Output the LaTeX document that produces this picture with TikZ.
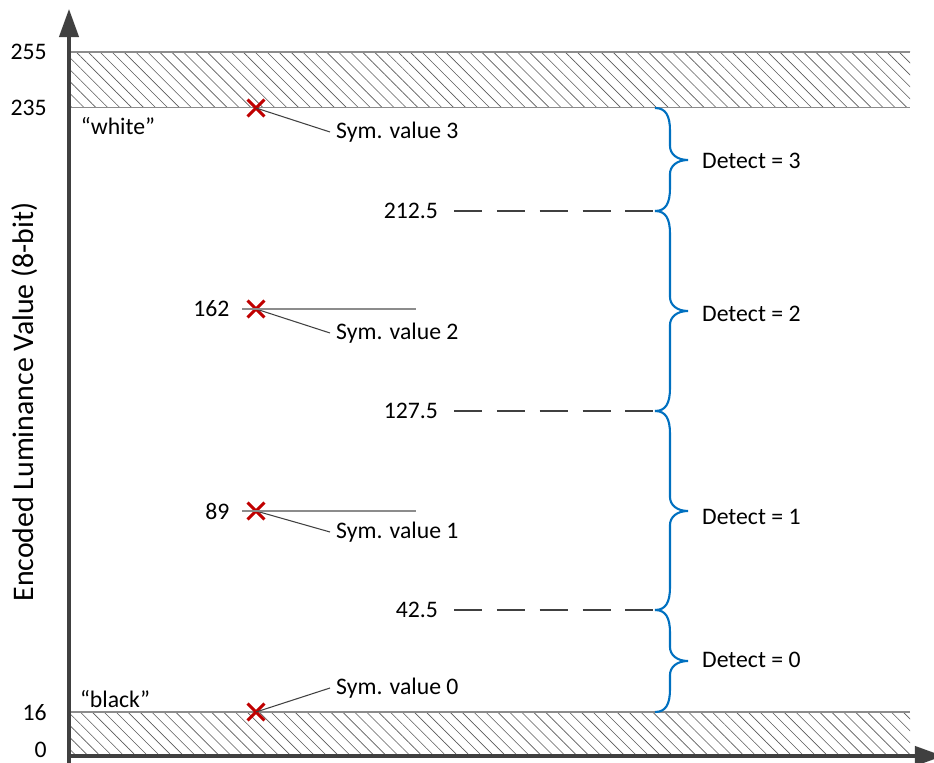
\documentclass[tikz,border=0pt]{standalone}
\usepackage{fontspec}
\setmainfont{Carlito}
\usepackage{tikz}
\usetikzlibrary{arrows.meta, patterns.meta, shapes.misc, positioning}
\usepackage{xcolor}
\definecolor{axisgray}{HTML}{404040}
\definecolor{bandgray}{HTML}{8C8C8C}
\definecolor{hatchgray}{HTML}{5A5A5A}
\definecolor{symred}{HTML}{C00000}
\definecolor{braceblue}{HTML}{0070C0}

\tikzset{
  axis/.style={draw=axisgray, line width=1.9pt, -{Triangle[length=16pt,width=11pt]}},
  hatchband/.style={pattern={Lines[angle=-45,distance=4.8pt,line width=0.35pt]}, pattern color=hatchgray},
  bandline/.style={draw=bandgray, line width=0.7pt},
  xmark/.style={cross out, draw=symred, line width=1.7pt, minimum size=0.28cm, inner sep=0pt},
  leader/.style={draw=axisgray, line width=0.6pt},
  levelline/.style={draw=bandgray, line width=0.8pt},
  ticklbl/.style={anchor=east, inner sep=0pt},
  thresh/.style={anchor=east, inner xsep=9pt},
  threshline/.style={draw=axisgray, line width=1.1pt, dash pattern=on 15.9pt off 8.5pt},
  symlbl/.style={anchor=west},
  detbrace/.style={draw=braceblue, line width=1.2pt},
  detect/.style={anchor=west}
}

\begin{document}
\begin{tikzpicture}[x=0.02cm, y=-0.02cm, font=\fontsize{13.5}{16}\selectfont]
    \clip (0,0) rectangle (934,763);

    % schraffierte Bereiche oben und unten
    \fill[hatchband] (69,52) rectangle (910,107.5);
    \fill[hatchband] (69,712) rectangle (910,756);
    \draw[bandline] (69,52) -- (910,52);
    \draw[bandline] (69,107.5) -- (910,107.5);
    \draw[bandline] (69,712) -- (910,712);

    % Achsen
    \draw[axis] (69,775) -- (69,9);
    \draw[axis] (68,756) -- (943,756);
    \node[rotate=90, font=\fontsize{17}{20}\selectfont] (ylab) at (25,402) {Encoded Luminance Value (8-bit)};

    % Achsenwerte
    \node[ticklbl] (v255) at (47,52) {255};
    \node[ticklbl] (v235) at (47,108) {235};
    \node[ticklbl] (v16) at (47,713) {16};
    \node[ticklbl] (v0) at (47,750) {0};
    \node (white) at (118,126) {“white”};
    \node (black) at (115,699) {“black”};

    % Symbolwerte
    \node[xmark] (s3) at (256,108) {};
    \node[xmark] (s2) at (256,309) {};
    \node[xmark] (s1) at (256,511) {};
    \node[xmark] (s0) at (256,712) {};
    \node[symlbl] (sv3) at (330,132) {Sym. value 3};
    \node[symlbl] (sv2) at (330,333) {Sym. value 2};
    \node[symlbl] (sv1) at (330,532) {Sym. value 1};
    \node[symlbl] (sv0) at (330,688) {Sym. value 0};
    \draw[leader] (s3.center) -- (sv3.west);
    \draw[leader] (s2.center) -- (sv2.west);
    \draw[leader] (s1.center) -- (sv1.west);
    \draw[leader] (s0.center) -- (sv0.west);

    % Pegel 162 und 89
    \node[anchor=east, inner xsep=7pt] (v162) at (242,309) {162};
    \node[anchor=east, inner xsep=7pt] (v89) at (242,511) {89};
    \coordinate (e162) at (416,309);
    \coordinate (e89) at (416,511);
    \draw[levelline] (v162.east) -- (e162);
    \draw[levelline] (v89.east) -- (e89);

    % Schwellen
    \coordinate (j3) at (655,108);
    \coordinate (j2) at (655,211);
    \coordinate (j1) at (655,411);
    \coordinate (j0) at (655,610);
    \coordinate (jb) at (655,712);
    \node[thresh] (t212) at (454,211) {212.5};
    \node[thresh] (t127) at (454,411) {127.5};
    \node[thresh] (t42) at (454,610) {42.5};
    \draw[threshline] (t212.east) -- (j2);
    \draw[threshline] (t127.east) -- (j1);
    \draw[threshline] (t42.east) -- (j0);

    % Klammern
    \draw[detbrace] (j3) .. controls (666,108) and (670,116) .. (670,131) -- (670,146)
        .. controls (670,154) and (677,160) .. (688,160) .. controls (677,160) and (670,166) .. (670,174)
        -- (670,188) .. controls (670,203) and (666,211) .. (j2);
    \draw[detbrace] (j2) .. controls (666,211) and (670,219) .. (670,234) -- (670,297)
        .. controls (670,305) and (677,311) .. (688,311) .. controls (677,311) and (670,317) .. (670,325)
        -- (670,388) .. controls (670,403) and (666,411) .. (j1);
    \draw[detbrace] (j1) .. controls (666,411) and (670,419) .. (670,434) -- (670,497)
        .. controls (670,505) and (677,511) .. (688,511) .. controls (677,511) and (670,517) .. (670,525)
        -- (670,587) .. controls (670,602) and (666,610) .. (j0);
    \draw[detbrace] (j0) .. controls (666,610) and (670,618) .. (670,633) -- (670,647)
        .. controls (670,655) and (677,661) .. (688,661) .. controls (677,661) and (670,667) .. (670,675)
        -- (670,689) .. controls (670,704) and (666,712) .. (jb);

    \node[detect] (d3) at (696,161) {Detect = 3};
    \node[detect] (d2) at (696,314) {Detect = 2};
    \node[detect] (d1) at (696,517) {Detect = 1};
    \node[detect] (d0) at (696,660) {Detect = 0};
\end{tikzpicture}
\end{document}
